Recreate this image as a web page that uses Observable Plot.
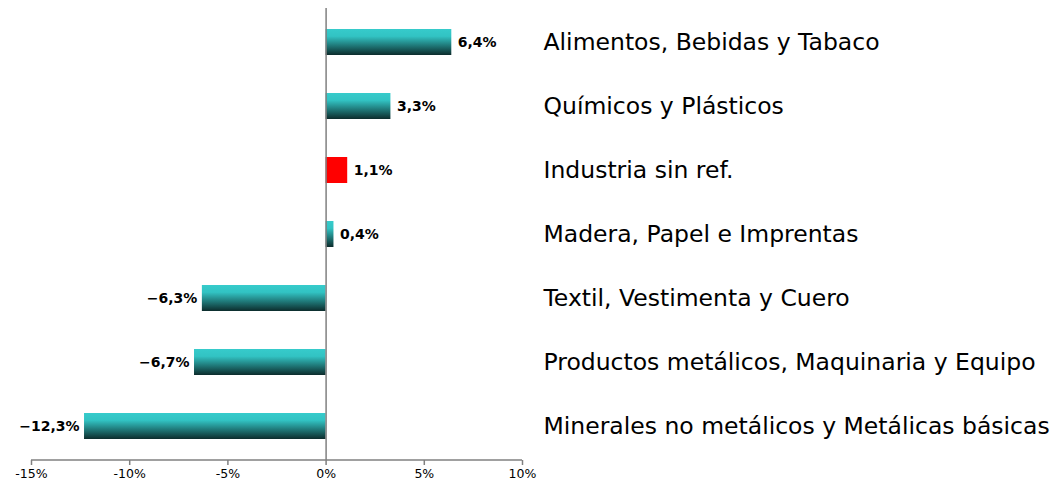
<!DOCTYPE html>
<html>
<head>
<meta charset="utf-8">
<script src="https://cdn.jsdelivr.net/npm/d3@7"></script>
<script src="https://cdn.jsdelivr.net/npm/@observablehq/plot@0.6"></script>
<style>
  html, body { margin: 0; padding: 0; background: #fff; }
  #chart { width: 1057px; height: 482px; overflow: hidden; }
</style>
</head>
<body>
<div id="chart"></div>
<script>
const categories = [
  "Alimentos, Bebidas y Tabaco",
  "Químicos y Plásticos",
  "Industria sin ref.",
  "Madera, Papel e Imprentas",
  "Textil, Vestimenta y Cuero",
  "Productos metálicos, Maquinaria y Equipo",
  "Minerales no metálicos y Metálicas básicas"
];
const values = [6.4, 3.3, 1.1, 0.4, -6.3, -6.7, -12.3];
const highlighted = ["Industria sin ref."];
const xTicks = [-15, -10, -5, 0, 5, 10];

const data = categories.map((c, i) => ({cat: c, value: values[i]}));
const fmt = v => (v < 0 ? "\u2212" : "") + Math.abs(v).toFixed(1).replace(".", ",") + "%";
const tickFmt = v => (v < 0 ? "-" : "") + Math.abs(v) + "%";

const decor = (index, scales, channels, dims) => {
  const g = d3.create("svg:g");
  const defs = g.append("defs");
  const grad = defs.append("linearGradient")
    .attr("id", "tealGrad").attr("x1", 0).attr("y1", 0).attr("x2", 0).attr("y2", 1);
  grad.append("stop").attr("offset", "0%").attr("stop-color", "#36CBCB");
  grad.append("stop").attr("offset", "28%").attr("stop-color", "#32C3C3");
  grad.append("stop").attr("offset", "100%").attr("stop-color", "#0C2C2C");
  const yb = dims.height - dims.marginBottom;
  g.append("line")
    .attr("x1", scales.x(-15)).attr("x2", scales.x(10))
    .attr("y1", yb).attr("y2", yb)
    .attr("stroke", "#808080").attr("stroke-width", 1.5);
  return g.node();
};

const labelStyle = {fontSize: 14, fontWeight: "bold", fontFamily: "DejaVu Sans", fill: "#000"};

const plot = Plot.plot({
  width: 1057,
  height: 482,
  marginTop: 8,
  marginBottom: 22,
  marginLeft: 31,
  marginRight: 535,
  style: {background: "#fff"},
  x: {domain: [-15, 10], ticks: xTicks},
  y: {domain: categories, paddingInner: 0.6, paddingOuter: 0.3, axis: null},
  marks: [
    decor,
    Plot.barX(data.filter(d => !highlighted.includes(d.cat)), {x: "value", y: "cat", fill: "url(#tealGrad)"}),
    Plot.barX(data.filter(d => highlighted.includes(d.cat)), {x: "value", y: "cat", fill: "#FF0000"}),
    Plot.ruleX([0], {stroke: "#808080", strokeWidth: 1.5}),
    Plot.axisX({
      ticks: xTicks, tickFormat: tickFmt, tickSize: 5, tickPadding: 4,
      stroke: "#808080", strokeWidth: 1.5,
      fontSize: 12.5, fill: "#000", fontFamily: "DejaVu Sans", label: null
    }),
    Plot.text(data.filter(d => d.value >= 0), {
      x: "value", y: "cat", text: d => fmt(d.value),
      textAnchor: "start", dx: 6, ...labelStyle
    }),
    Plot.text(data.filter(d => d.value < 0), {
      x: "value", y: "cat", text: d => fmt(d.value),
      textAnchor: "end", dx: -5, ...labelStyle
    }),
    Plot.text(data, {
      x: 10, y: "cat", text: "cat", textAnchor: "start", dx: 21,
      fontSize: 23.5, fontFamily: "DejaVu Sans", fill: "#000"
    })
  ]
});

document.getElementById("chart").appendChild(plot);
</script>
</body>
</html>
